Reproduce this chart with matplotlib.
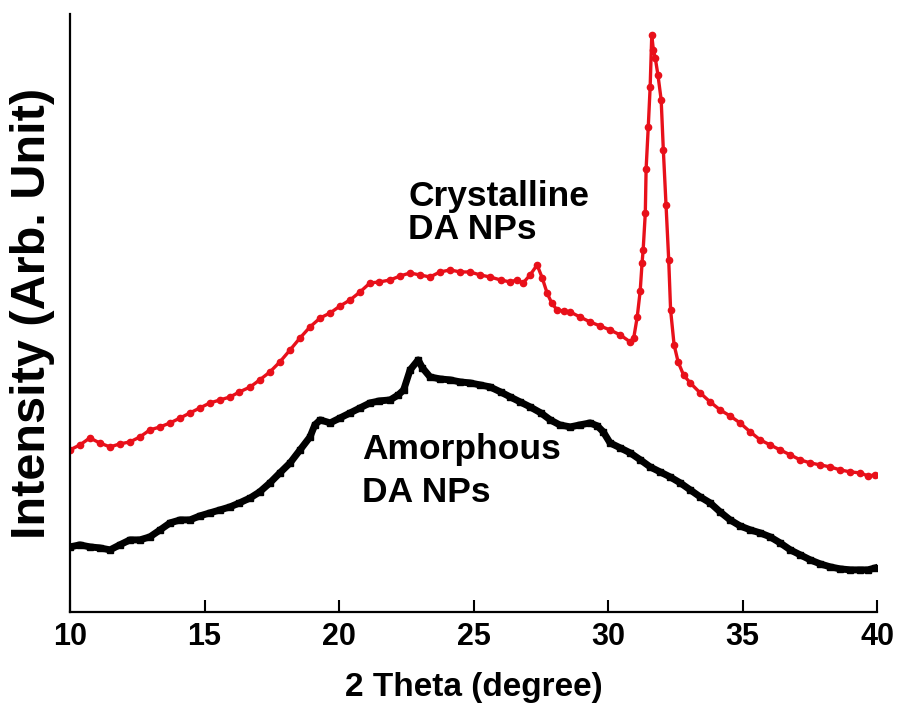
import matplotlib.pyplot as plt

# 2 theta positions and intensities (arbitrary units)
cryst_2theta = [10.0, 10.37, 10.74, 11.1, 11.49, 11.85, 12.23, 12.6, 12.97, 13.35,
                13.72, 14.1, 14.46, 14.83, 15.2, 15.58, 15.95, 16.3, 16.7, 17.05,
                17.43, 17.8, 18.18, 18.55, 18.92, 19.3, 19.67, 20.04, 20.41, 20.78,
                21.15, 21.5, 21.9, 22.27, 22.64, 23.0, 23.38, 23.75, 24.13, 24.5,
                24.87, 25.24, 25.61, 26.0, 26.36, 26.6, 26.84, 27.1, 27.36, 27.55,
                27.73, 27.9, 28.1, 28.35, 28.59, 28.95, 29.33, 29.7, 30.07, 30.45,
                30.82, 30.95, 31.08, 31.19, 31.26, 31.3, 31.38, 31.41, 31.49, 31.56,
                31.62, 31.68, 31.75, 31.85, 31.97, 32.05, 32.15, 32.25, 32.32, 32.45,
                32.6, 32.8, 33.05, 33.42, 33.79, 34.16, 34.53, 34.9, 35.28, 35.65,
                36.02, 36.39, 36.77, 37.14, 37.51, 37.88, 38.25, 38.62, 39.0, 39.37,
                39.65, 39.93]
cryst_int = [162, 167, 174, 169, 165, 168, 170, 175, 182, 185,
             189, 194, 199, 204, 209, 212, 215, 220, 225, 232,
             240, 250, 262, 274, 285, 294, 299, 306, 312, 320,
             329, 330, 332, 336, 339, 337, 335, 340, 342, 340,
             340, 337, 335, 332, 330, 332, 329, 337, 347, 334,
             319, 309, 302, 301, 300, 295, 290, 286, 282, 277,
             270, 274, 295, 321, 349, 362, 399, 443, 485, 525,
             577, 562, 554, 537, 512, 462, 407, 352, 302, 267,
             250, 237, 229, 219, 210, 202, 196, 189, 180, 172,
             167, 162, 157, 152, 149, 147, 145, 142, 140, 139,
             136, 137]

amorph_2theta = [10.0, 10.37, 10.74, 11.1, 11.49, 11.85, 12.23, 12.6, 12.97, 13.35,
                 13.72, 14.1, 14.46, 14.83, 15.2, 15.58, 15.95, 16.3, 16.7, 17.05,
                 17.43, 17.8, 18.18, 18.55, 18.92, 19.1, 19.3, 19.67, 20.04, 20.41,
                 20.78, 21.15, 21.5, 21.9, 22.2, 22.4, 22.64, 22.94, 23.1, 23.38,
                 23.75, 24.13, 24.5, 24.87, 25.24, 25.61, 26.0, 26.36, 26.73, 27.1,
                 27.5, 27.85, 28.2, 28.59, 28.95, 29.33, 29.6, 29.82, 30.07, 30.45,
                 30.82, 31.2, 31.56, 31.93, 32.3, 32.68, 33.05, 33.42, 33.79, 34.16,
                 34.53, 34.9, 35.28, 35.65, 36.02, 36.39, 36.77, 37.14, 37.51, 37.88,
                 38.25, 38.62, 39.0, 39.37, 39.65, 39.93]
amorph_int = [65, 67, 65, 64, 62, 67, 72, 72, 75, 82,
              89, 92, 92, 96, 99, 102, 105, 109, 114, 120,
              129, 139, 149, 162, 175, 187, 192, 189, 194, 199,
              204, 209, 211, 212, 217, 222, 242, 252, 244, 235,
              233, 232, 230, 229, 227, 225, 220, 215, 210, 205,
              199, 192, 187, 185, 187, 189, 186, 180, 169, 164,
              159, 152, 145, 140, 135, 129, 122, 115, 109, 100,
              92, 86, 82, 79, 75, 69, 62, 57, 52, 48,
              45, 43, 42, 42, 42, 44]

x_ticks = [10, 15, 20, 25, 30, 35, 40]

fig = plt.figure(figsize=(8.97, 7.19), dpi=100)
ax = fig.add_axes([0.078, 0.149, 0.9, 0.8315])

ax.plot(amorph_2theta, amorph_int, color='black', lw=5, marker='s', ms=5)
ax.plot(cryst_2theta, cryst_int, color='#e8101a', lw=2.4, marker='o', ms=4.5)

ax.set_xlim(10, 40)
ax.set_ylim(0, 598)
ax.set_xticks(x_ticks)
ax.set_yticks([])

for side in ['top', 'right']:
    ax.spines[side].set_visible(False)
for side in ['left', 'bottom']:
    ax.spines[side].set_linewidth(1.6)

font = 'Liberation Sans'
ax.tick_params(axis='x', direction='in', length=9, width=1.5, pad=7)
for lbl in ax.get_xticklabels():
    lbl.set_fontfamily(font)
    lbl.set_fontweight('bold')
    lbl.set_fontsize(22)

ax.set_xlabel('2 Theta (degree)', fontsize=24, fontweight='bold', family=font)
ax.xaxis.set_label_coords(0.5, -0.1)
ax.set_ylabel('Intensity (Arb. Unit)', fontsize=35, fontweight='bold', family=font)
ax.yaxis.set_label_coords(-0.019, 0.5)

ax.text(22.57, 432, 'Crystalline\nDA NPs', fontsize=25.5, fontweight='bold',
        family=font, va='top', ha='left', linespacing=1.0)
ax.text(20.86, 179, 'Amorphous\nDA NPs', fontsize=25.5, fontweight='bold',
        family=font, va='top', ha='left', linespacing=1.4)

fig.savefig('out.png', dpi=100)
